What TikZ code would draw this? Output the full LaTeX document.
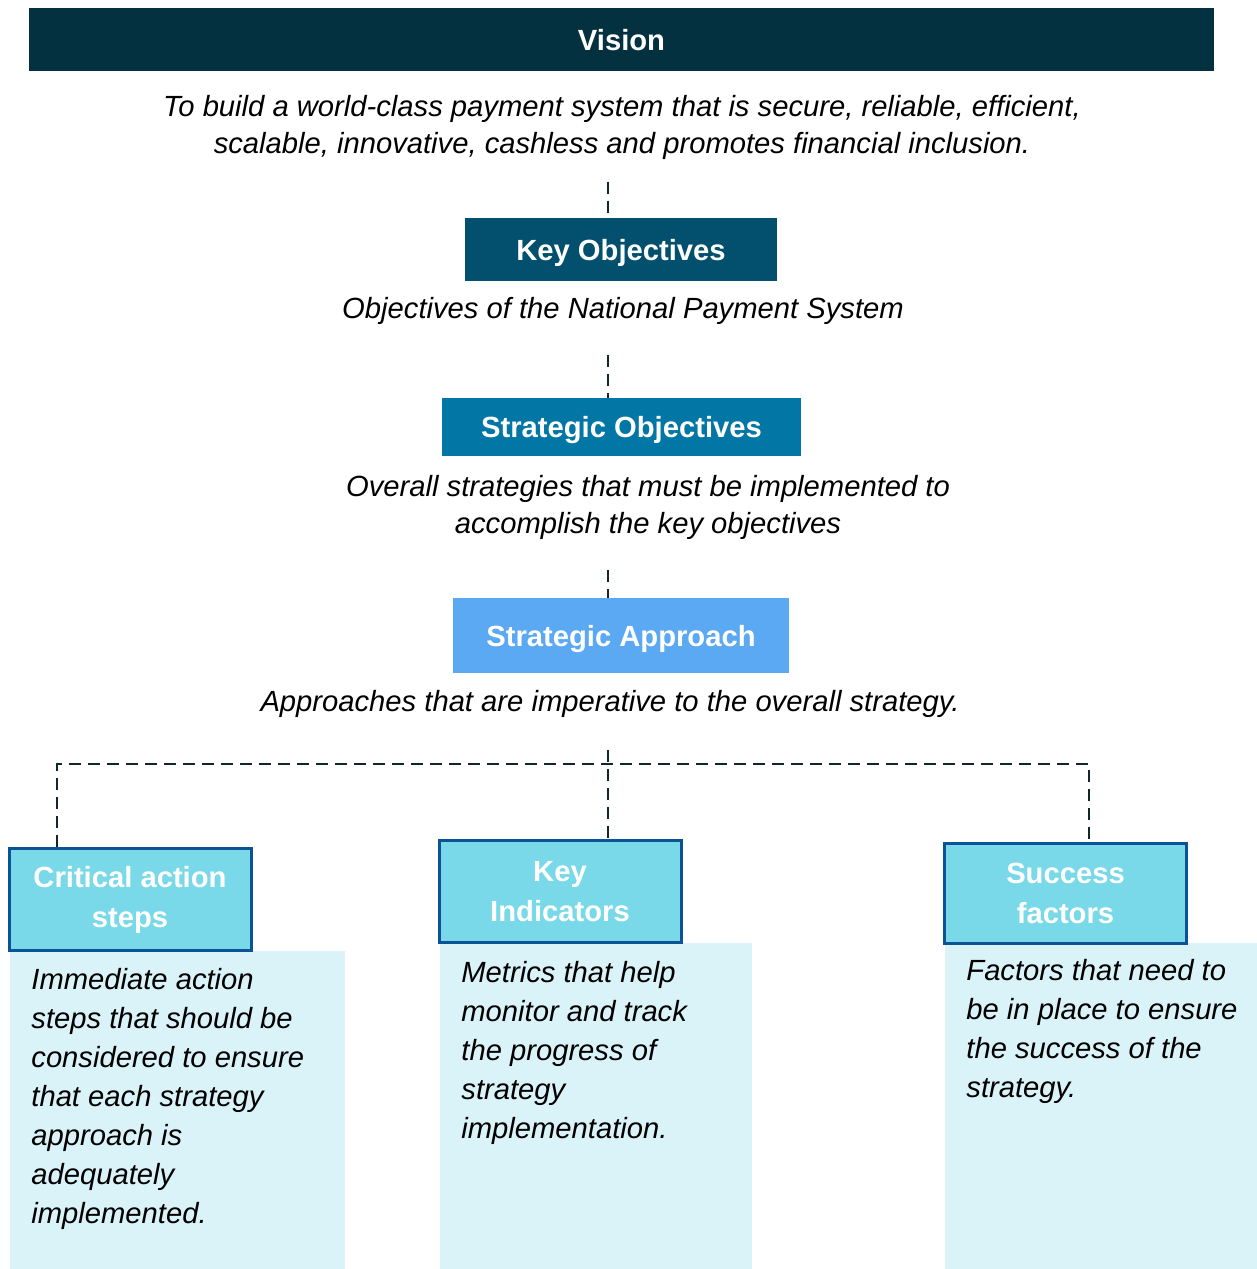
\documentclass[tikz,border=0pt]{standalone}
\usepackage{fontspec}
\setmainfont{Liberation Sans}
\usetikzlibrary{positioning}

\definecolor{visionblue}{RGB}{4,49,64}
\definecolor{keyblue}{RGB}{2,80,110}
\definecolor{stratblue}{RGB}{2,118,164}
\definecolor{approachblue}{RGB}{90,169,242}
\definecolor{headfill}{RGB}{121,217,232}
\definecolor{headedge}{RGB}{11,83,148}
\definecolor{descfill}{RGB}{218,243,248}
\definecolor{linkcol}{RGB}{17,38,45}

\begin{document}
\begin{tikzpicture}[x=0.5pt, y=-0.5pt,
    titlebox/.style={rectangle, inner sep=0pt, text=white, text height=10.5pt, text depth=0pt,
        font=\fontsize{14.6}{18}\selectfont\bfseries},
    headbox/.style={rectangle, draw=headedge, line width=1.5pt, fill=headfill, inner sep=0pt,
        minimum width=121pt, minimum height=51pt, align=center, text=white,
        font=\fontsize{14.6}{20}\selectfont\bfseries},
    descbox/.style={rectangle, fill=descfill, inner sep=0pt, minimum height=163pt, anchor=north west},
    desctext/.style={inner sep=0pt, anchor=north west, align=left, font=\fontsize{14.6}{19.5}\selectfont\itshape},
    note/.style={inner sep=0pt, align=center, font=\fontsize{14.6}{18.5}\selectfont\itshape},
    link/.style={draw=linkcol, line width=1.15pt, dash pattern=on 6pt off 3.5pt}]
    \useasboundingbox (0,0) rectangle (1257,1269);

    % Vision and objectives
    \node[titlebox, fill=visionblue, minimum width=592.5pt, minimum height=31.5pt] (vision) at (621.5,39.5) {Vision};
    \node[note] (visionTxt) at (622,127) {To build a world-class payment system that is secure, reliable, efficient,\\ scalable, innovative, cashless and promotes financial inclusion.};

    \node[titlebox, fill=keyblue, minimum width=156pt, minimum height=31.5pt] (keyObj) at (621,249.5) {Key Objectives};
    \node[note] (keyObjTxt) at (623,311) {Objectives of the National Payment System};

    \node[titlebox, fill=stratblue, minimum width=179.5pt, minimum height=29pt] (stratObj) at (621.5,427) {Strategic Objectives};
    \node[note] (stratObjTxt) at (648,507.5) {Overall strategies that must be implemented to\\ accomplish the key objectives};

    \node[titlebox, fill=approachblue, minimum width=168pt, minimum height=37.5pt] (approach) at (621,635.5) {Strategic Approach};
    \node[note] (approachTxt) at (610,704) {Approaches that are imperative to the overall strategy.};

    % Description panels
    \node[descbox, minimum width=167.5pt, minimum height=159pt] (critDesc) at (10,951) {};
    \node[descbox, minimum width=156pt] (indDesc) at (440,943) {};
    \node[descbox, minimum width=156pt] (succDesc) at (945,943) {};

    \node[desctext] (critTxt) at (31,968) {Immediate action\\ steps that should be\\ considered to ensure\\ that each strategy\\ approach is\\ adequately\\ implemented.};
    \node[desctext] (indTxt) at (461,961) {Metrics that help\\ monitor and track\\ the progress of\\ strategy\\ implementation.};
    \node[desctext] (succTxt) at (966,959) {Factors that need to\\ be in place to ensure\\ the success of the\\ strategy.};

    % Pillar headings
    \node[headbox] (crit) at (130,899.5) {Critical action\\ steps};
    \node[headbox] (ind) at (560,891.5) {Key\\ Indicators};
    \node[headbox, minimum height=50pt] (succ) at (1065.5,893) {Success\\ factors};

    % Dashed links
    \coordinate (spine) at (608,0);
    \coordinate (leftDrop) at (57,764);
    \coordinate (rightDrop) at (1089,764);
    \draw[link, shorten <=11pt] (spine |- visionTxt.south) -- (spine |- keyObj.north);
    \draw[link, shorten <=15pt] (spine |- keyObjTxt.south) -- (spine |- stratObj.north);
    \draw[link, shorten <=15pt] (spine |- stratObjTxt.south) -- (spine |- approach.north);
    \draw[link, shorten <=16pt] (spine |- approachTxt.south) -- (spine |- ind.north);
    \draw[link] (leftDrop |- crit.north) -- (leftDrop) -- (rightDrop) -- (rightDrop |- succ.north);
\end{tikzpicture}
\end{document}
